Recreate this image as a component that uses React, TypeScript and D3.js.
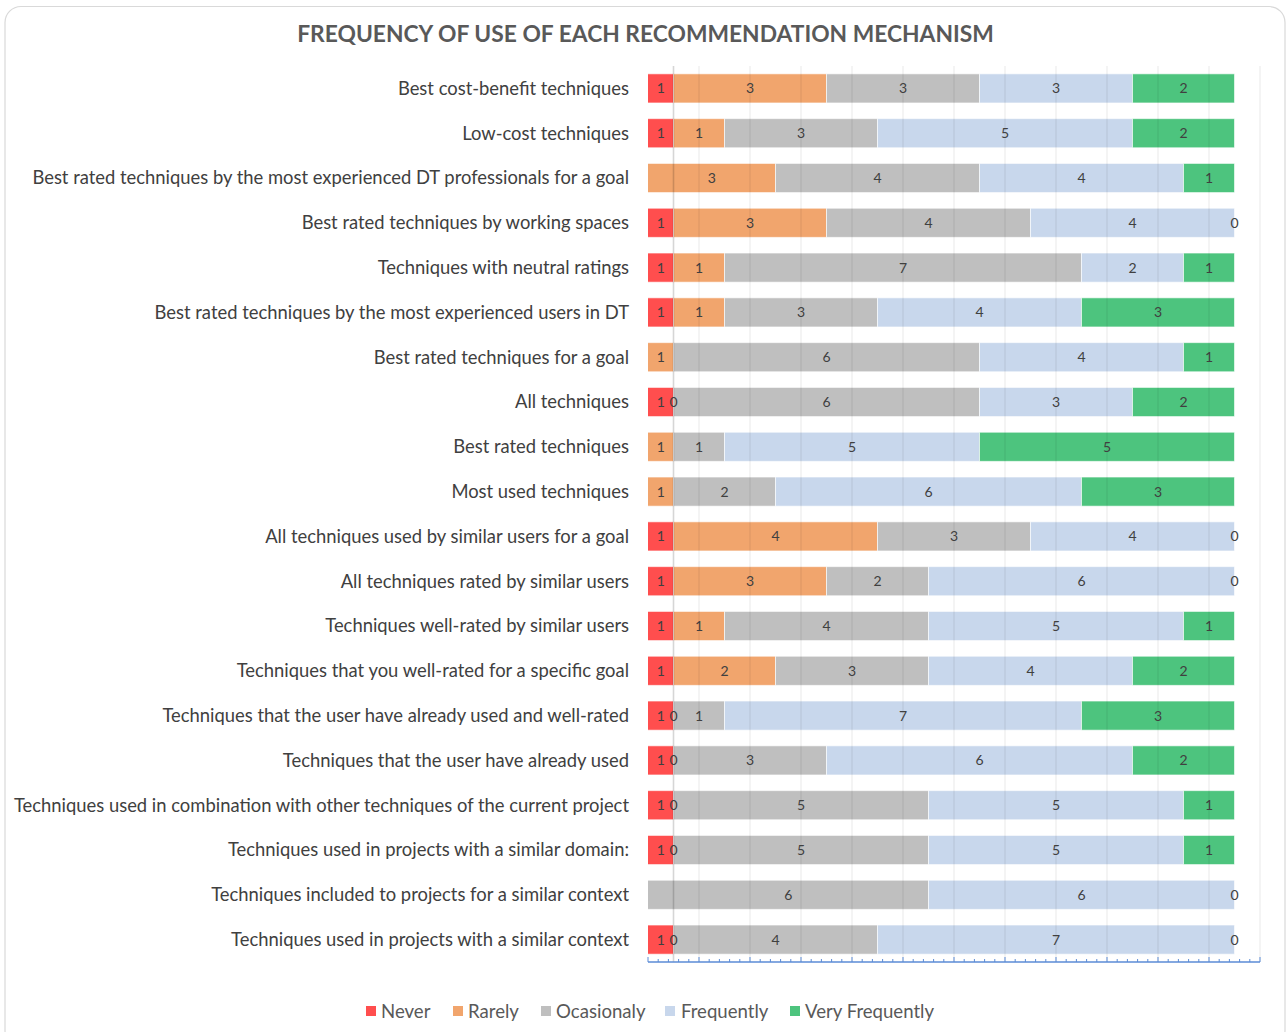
import React from "react";
import * as d3 from "d3";

const categories = [
  "Best cost-benefit techniques",
  "Low-cost techniques",
  "Best rated techniques by the most experienced DT professionals for a goal",
  "Best rated techniques by working spaces",
  "Techniques with neutral ratings",
  "Best rated techniques by the most experienced users in DT",
  "Best rated techniques for a goal",
  "All techniques",
  "Best rated techniques",
  "Most used techniques",
  "All techniques used by similar users for a goal",
  "All techniques rated by similar users",
  "Techniques well-rated by similar users",
  "Techniques that you well-rated for a specific goal",
  "Techniques that the user have already used and well-rated",
  "Techniques that the user have already used",
  "Techniques used in combination with other techniques of the current project",
  "Techniques used in projects with a similar domain:",
  "Techniques included to projects for a similar context",
  "Techniques used in projects with a similar context",
];

const never = [1, 1, 0, 1, 1, 1, 0, 1, 0, 0, 1, 1, 1, 1, 1, 1, 1, 1, 0, 1];
const rarely = [3, 1, 3, 3, 1, 1, 1, 0, 1, 1, 4, 3, 1, 2, 0, 0, 0, 0, 0, 0];
const occasionally = [3, 3, 4, 4, 7, 3, 6, 6, 1, 2, 3, 2, 4, 3, 1, 3, 5, 5, 6, 4];
const frequently = [3, 5, 4, 4, 2, 4, 4, 3, 5, 6, 4, 6, 5, 4, 7, 6, 5, 5, 6, 7];
const veryFrequently = [2, 2, 1, 0, 1, 3, 1, 2, 5, 3, 0, 0, 1, 2, 3, 2, 1, 1, 0, 0];

const seriesNames = ["Never", "Rarely", "Ocasionaly", "Frequently", "Very Frequently"];
const seriesKeys = ["never", "rarely", "occasionally", "frequently", "veryFrequently"];
const seriesColors = ["#FF4E4E", "#F1A56D", "#BFBFBF", "#C8D7EC", "#4DC47E"];

const axisMin = 0.5;
const axisMax = 12.5;

const W = 1287;
const H = 1032;
const plotLeft = 648;
const plotRight = 1260;
const plotTop = 66;
const plotBottom = 962;

export default function App() {
  const table = categories.map((c, i) => ({
    category: c,
    never: never[i],
    rarely: rarely[i],
    occasionally: occasionally[i],
    frequently: frequently[i],
    veryFrequently: veryFrequently[i],
  }));
  const stacked = d3.stack<any>().keys(seriesKeys)(table);

  const x = d3.scaleLinear().domain([axisMin, axisMax]).range([plotLeft, plotRight]);
  const y = d3
    .scaleBand<string>()
    .domain(categories)
    .range([plotTop, plotBottom])
    .paddingInner(0.35)
    .paddingOuter(0.175);

  const gridVals = d3.range(axisMin + 1, axisMax + 0.001, 1);
  const minorTicks = d3.range(axisMin, axisMax + 0.001, 0.2);
  const fontFamily = "Lato, 'Open Sans', sans-serif";

  const legendItems = [
    { sq: 366, tx: 381 },
    { sq: 453, tx: 468 },
    { sq: 541, tx: 556 },
    { sq: 665, tx: 681 },
    { sq: 790, tx: 805 },
  ];

  return (
    <svg
      width={W}
      height={H}
      style={{ position: "absolute", left: 0, top: 0, background: "#fff" }}
      fontFamily={fontFamily}
    >
      <rect x={5} y={6.5} width={1280} height={1040} rx={16} ry={16} fill="#fff" stroke="#D9D9D9" strokeWidth={1.2} />
      <text
        x={645.5}
        y={42}
        textAnchor="middle"
        fontSize={22.8}
        fontWeight={700}
        fill="#595959"
      >
        FREQUENCY OF USE OF EACH RECOMMENDATION MECHANISM
      </text>

      <defs>
        <clipPath id="plotClip">
          <rect x={plotLeft} y={plotTop - 5} width={plotRight - plotLeft + 5} height={plotBottom - plotTop + 5} />
        </clipPath>
      </defs>

      {/* bars */}
      <g clipPath="url(#plotClip)">
        {stacked.map((s, si) => (
          <g key={s.key} fill={seriesColors[si]}>
            {s.map((d, i) => {
              const x0 = x(d[0]);
              const x1 = x(d[1]);
              if (x1 - x0 <= 0) return null;
              return (
                <rect
                  key={i}
                  x={x0}
                  y={y(categories[i])}
                  width={x1 - x0}
                  height={y.bandwidth()}
                  stroke="rgba(255,255,255,0.6)"
                  strokeWidth={1}
                />
              );
            })}
          </g>
        ))}
      </g>

      {/* gridlines over bars */}
      <g>
        {gridVals.map((v) => (
          <line
            key={v}
            x1={x(v)}
            x2={x(v)}
            y1={plotTop}
            y2={plotBottom}
            stroke="rgba(0,0,0,0.09)"
            strokeWidth={1}
          />
        ))}
        <line x1={x(1)} x2={x(1)} y1={plotTop} y2={plotBottom} stroke="rgba(0,0,0,0.16)" strokeWidth={1.6} />
      </g>

      {/* data labels */}
      <g fontSize={14} fill="#404040" textAnchor="middle">
        {stacked.map((s, si) =>
          s.map((d, i) => {
            const v = d[1] - d[0];
            let cx: number;
            if (v > 0) {
              const a = Math.max(d[0], axisMin);
              const b = Math.min(d[1], axisMax);
              cx = (a + b) / 2;
            } else {
              if (d[0] < axisMin) return null;
              cx = d[0];
            }
            return (
              <text
                key={s.key + i}
                x={x(cx)}
                y={(y(categories[i]) as number) + y.bandwidth() / 2}
                dy="0.36em"
              >
                {v}
              </text>
            );
          })
        )}
      </g>

      {/* category labels */}
      <g fontSize={18.4} fill="#404040" textAnchor="end">
        {categories.map((c) => (
          <text key={c} x={629} y={(y(c) as number) + y.bandwidth() / 2} dy="0.35em">
            {c}
          </text>
        ))}
      </g>

      {/* bottom axis */}
      <g stroke="#5B8BD6" strokeWidth={1}>
        <line x1={plotLeft} x2={plotRight} y1={plotBottom} y2={plotBottom} strokeWidth={1.3} />
        {minorTicks.map((t, i) => {
          const isMajor = Math.abs((t - axisMin) - Math.round(t - axisMin)) < 1e-6;
          return (
            <line
              key={i}
              x1={x(t)}
              x2={x(t)}
              y1={plotBottom}
              y2={plotBottom - (isMajor ? 5 : 3)}
            />
          );
        })}
      </g>

      {/* legend */}
      <g fontSize={18.6} fill="#595959">
        {seriesNames.map((n, i) => (
          <g key={n}>
            <rect x={legendItems[i].sq} y={1006} width={10} height={10} fill={seriesColors[i]} />
            <text x={legendItems[i].tx} y={1011} dy="0.36em">
              {n}
            </text>
          </g>
        ))}
      </g>
    </svg>
  );
}
